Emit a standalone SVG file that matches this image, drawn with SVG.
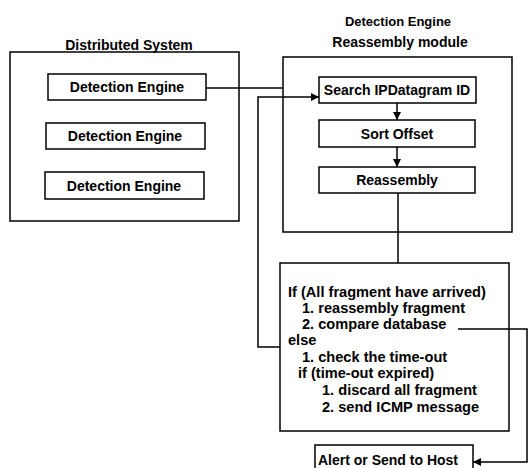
<svg xmlns="http://www.w3.org/2000/svg" width="529" height="468" viewBox="0 0 529 468">
<defs>
<marker id="ah" viewBox="0 0 10 10" refX="10" refY="5" markerWidth="8" markerHeight="8" markerUnits="userSpaceOnUse" orient="auto">
<path d="M0,0 L10,5 L0,10 z" fill="#000"/>
</marker>
<style>
rect{fill:#fff;stroke:#000;stroke-width:1.5}
text{font-family:"Liberation Sans",Arial,sans-serif;font-size:14px;font-weight:bold;fill:#000}
.c{text-anchor:middle}
.t{font-size:13px}
.b{font-size:14.6px}
.ln{fill:none;stroke:#000;stroke-width:1.5}
</style>
</defs>
<rect width="529" height="468" style="fill:#fff;stroke:none"/>
<g id="distributed-system">
<rect x="10" y="52" width="229" height="169"/>
<text class="c" x="129" y="50">Distributed System</text>
</g>
<g id="de1"><rect x="48" y="74" width="158" height="26"/><text class="c" x="127" y="92">Detection Engine</text></g>
<g id="de2"><rect x="46" y="123" width="159" height="26"/><text class="c" x="125" y="141">Detection Engine</text></g>
<g id="de3"><rect x="45" y="172" width="159" height="27"/><text class="c" x="124" y="191">Detection Engine</text></g>
<g id="reassembly-module">
<rect x="283" y="57" width="229" height="175"/>
<text class="c t" x="398" y="26">Detection Engine</text>
<text class="c" x="400" y="47">Reassembly module</text>
</g>
<g id="search"><rect x="319" y="77" width="157" height="26"/><text class="c" x="397" y="95">Search IPDatagram ID</text></g>
<g id="sort"><rect x="319" y="120" width="156" height="27"/><text class="c" x="397" y="139">Sort Offset</text></g>
<g id="reassembly"><rect x="319" y="167" width="156" height="26"/><text class="c" x="397" y="185">Reassembly</text></g>
<g id="logic">
<rect x="280" y="263" width="229" height="168"/>
<text class="b" x="288" y="297">If (All fragment have arrived)</text>
<text class="b" x="302" y="313">1. reassembly fragment</text>
<text class="b" x="302" y="329">2. compare database</text>
<text class="b" x="288" y="345">else</text>
<text class="b" x="302" y="362">1. check the time-out</text>
<text class="b" x="298" y="378">if (time-out expired)</text>
<text class="b" x="322" y="395">1. discard all fragment</text>
<text class="b" x="322" y="412">2. send ICMP message</text>
</g>
<g id="alert"><rect x="315" y="445" width="158" height="30"/><text x="318" y="465">Alert or Send to Host</text></g>
<g id="connectors">
<path class="ln" d="M206,88 H283"/>
<path class="ln" d="M397,103 V120" marker-end="url(#ah)"/>
<path class="ln" d="M397,147 V167" marker-end="url(#ah)"/>
<path class="ln" d="M398,193 V263"/>
<path class="ln" d="M280,347 H258 V97 H319" marker-end="url(#ah)"/>
<path class="ln" d="M458,329 H527 V462 H473" marker-end="url(#ah)"/>
</g>
</svg>
